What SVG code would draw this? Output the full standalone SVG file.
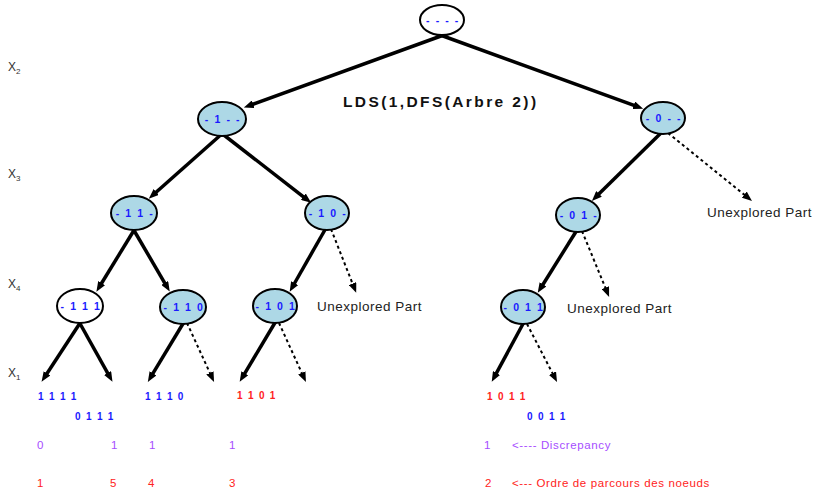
<svg xmlns="http://www.w3.org/2000/svg" width="816" height="489" viewBox="0 0 816 489">
  <style>
    .node { stroke: #000; stroke-width: 2; fill: #add8e6; }
    .node.open { fill: #fff; }
    .lbl { font-family: "Liberation Sans", Arial, sans-serif; font-size: 10.5px; font-weight: bold; fill: #1a1aff; letter-spacing: 1.6px; text-anchor: middle; }
    .edge { stroke: #000; stroke-width: 3.5; fill: none; marker-end: url(#head); }
    .dash { stroke: #000; stroke-width: 2; fill: none; stroke-dasharray: 3 3; marker-end: url(#head); }
    .axis { font-family: "Liberation Sans", Arial, sans-serif; font-size: 12px; fill: #333; }
    .axis tspan.sub { font-size: 8px; }
    .note { font-family: "Liberation Sans", Arial, sans-serif; font-size: 13.5px; fill: #222; letter-spacing: 0.5px; }
    .code { font-family: "Liberation Sans", Arial, sans-serif; font-size: 10px; font-weight: bold; letter-spacing: 1.3px; }
    .blue { fill: #1a1aff; }
    .red { fill: #ff2222; }
    .purple { fill: #a64dff; }
    .num { font-family: "Liberation Sans", Arial, sans-serif; font-size: 11.5px; letter-spacing: 0.62px; }
    .title { font-family: "Liberation Sans", Arial, sans-serif; font-size: 15.5px; font-weight: bold; fill: #111; letter-spacing: 2.4px; }
  </style>
  <defs>
    <marker id="head" markerUnits="userSpaceOnUse" markerWidth="10" markerHeight="8" refX="1" refY="4" orient="auto">
      <path d="M0,0 L10,4 L0,8 z" fill="#000"/>
    </marker>
  </defs>

  <!-- variable levels -->
  <g id="levels">
    <text class="axis" x="8" y="71">X<tspan class="sub" dy="3">2</tspan></text>
    <text class="axis" x="8" y="178">X<tspan class="sub" dy="3">3</tspan></text>
    <text class="axis" x="8" y="288">X<tspan class="sub" dy="3">4</tspan></text>
    <text class="axis" x="8" y="377">X<tspan class="sub" dy="3">1</tspan></text>
  </g>

  <!-- connectors -->
  <g id="connectors">
    <line class="edge" x1="452" y1="32" x2="252.3" y2="104.5"/>
    <line class="edge" x1="432" y1="32" x2="634.7" y2="105.6"/>
    <line class="edge" x1="224" y1="132" x2="155.5" y2="192.7"/>
    <line class="edge" x1="220" y1="132" x2="304.1" y2="197.3"/>
    <line class="edge" x1="662" y1="132" x2="598.3" y2="194.6"/>
    <line class="dash" x1="668" y1="133" x2="745" y2="195.3"/>
    <line class="edge" x1="136" y1="227" x2="101.1" y2="284"/>
    <line class="edge" x1="132" y1="227" x2="165.2" y2="283.8"/>
    <line class="edge" x1="326" y1="228" x2="294.1" y2="284"/>
    <line class="dash" x1="331" y1="229" x2="352.9" y2="284.5"/>
    <line class="edge" x1="577" y1="230" x2="542.5" y2="285.2"/>
    <line class="dash" x1="582" y1="231" x2="605.7" y2="288.6"/>
    <line class="edge" x1="82" y1="320" x2="46.5" y2="374.2"/>
    <line class="edge" x1="78" y1="320" x2="108.1" y2="373.9"/>
    <line class="edge" x1="184" y1="322" x2="152.5" y2="374.2"/>
    <line class="dash" x1="187" y1="323" x2="210.3" y2="373.8"/>
    <line class="edge" x1="276" y1="321" x2="244.3" y2="374.1"/>
    <line class="dash" x1="279" y1="323" x2="302.2" y2="373.8"/>
    <line class="edge" x1="524" y1="322" x2="496" y2="373.9"/>
    <line class="dash" x1="527" y1="324" x2="552.9" y2="374"/>
  </g>

  <!-- tree nodes -->
  <g id="root">
    <ellipse class="node open" cx="442" cy="20" rx="22" ry="15"/>
    <text class="lbl" x="443" y="23.5">- - - -</text>
  </g>
  <g id="n1">
    <ellipse class="node" cx="222" cy="119" rx="24" ry="17"/>
    <text class="lbl" x="223" y="123">- 1 - -</text>
  </g>
  <g id="n0">
    <ellipse class="node" cx="663" cy="118" rx="22" ry="16"/>
    <text class="lbl" x="664" y="122">- 0 - -</text>
  </g>
  <g id="n11">
    <ellipse class="node" cx="134" cy="213" rx="23" ry="17"/>
    <text class="lbl" x="135" y="217">- 1 1 -</text>
  </g>
  <g id="n10">
    <ellipse class="node" cx="327" cy="213" rx="22" ry="17"/>
    <text class="lbl" x="328" y="217">- 1 0 -</text>
  </g>
  <g id="n01">
    <ellipse class="node" cx="578" cy="215" rx="22" ry="17"/>
    <text class="lbl" x="579" y="219">- 0 1 -</text>
  </g>
  <g id="n111">
    <ellipse class="node open" cx="80" cy="306" rx="23" ry="17"/>
    <text class="lbl" x="81" y="310">- 1 1 1</text>
  </g>
  <g id="n110">
    <ellipse class="node" cx="183" cy="307" rx="23" ry="17"/>
    <text class="lbl" x="184" y="311">- 1 1 0</text>
  </g>
  <g id="n101">
    <ellipse class="node" cx="275" cy="306" rx="22" ry="17"/>
    <text class="lbl" x="276" y="310">- 1 0 1</text>
  </g>
  <g id="n011">
    <ellipse class="node" cx="523" cy="307" rx="22" ry="17"/>
    <text class="lbl" x="524" y="311">- 0 1 1</text>
  </g>

  <!-- annotations -->
  <g id="notes">
    <text class="title" x="343" y="107">LDS(1,DFS(Arbre 2))</text>
    <text class="note" x="707" y="217">Unexplored Part</text>
    <text class="note" x="317" y="311">Unexplored Part</text>
    <text class="note" x="567" y="313">Unexplored Part</text>
  </g>

  <!-- leaves reached -->
  <g id="leaves">
    <text class="code blue" x="38" y="400">1 1 1 1</text>
    <text class="code blue" x="75" y="420">0 1 1 1</text>
    <text class="code blue" x="145" y="400">1 1 1 0</text>
    <text class="code red" x="237" y="399">1 1 0 1</text>
    <text class="code red" x="487" y="400">1 0 1 1</text>
    <text class="code blue" x="527" y="420">0 0 1 1</text>
  </g>

  <!-- discrepancy counts -->
  <g id="discrepancy">
    <text class="num purple" x="37" y="449">0</text>
    <text class="num purple" x="111" y="449">1</text>
    <text class="num purple" x="149" y="449">1</text>
    <text class="num purple" x="229" y="449">1</text>
    <text class="num purple" x="484" y="449">1</text>
    <text class="num purple" x="512" y="449">&lt;----  Discrepancy</text>
  </g>

  <!-- visiting order -->
  <g id="order">
    <text class="num red" x="37" y="487">1</text>
    <text class="num red" x="110" y="487">5</text>
    <text class="num red" x="148" y="487">4</text>
    <text class="num red" x="229" y="487">3</text>
    <text class="num red" x="485" y="487">2</text>
    <text class="num red" x="512" y="487">&lt;--- Ordre de parcours des noeuds</text>
  </g>
</svg>
